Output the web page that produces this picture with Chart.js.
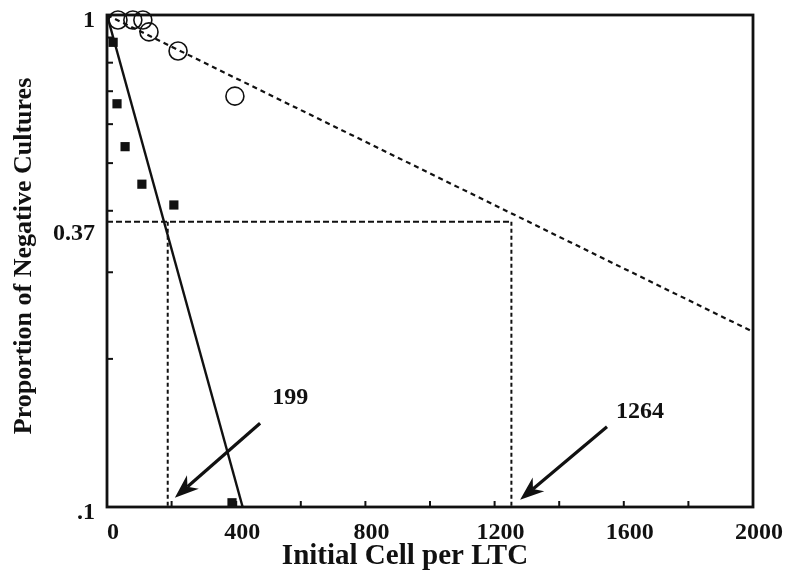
<!DOCTYPE html>
<html>
<head>
<meta charset="utf-8">
<script src="https://cdn.jsdelivr.net/npm/chart.js@4.4.1/dist/chart.umd.min.js"></script>
<style>
  html, body { margin: 0; padding: 0; background: #fff; }
  #wrap { width: 785px; height: 579px; }
</style>
</head>
<body>
<div id="wrap"><canvas id="chart"></canvas></div>
<script>
// data
const squareX = [19, 31, 56, 108, 207, 387];
const squareY = [0.88, 0.66, 0.54, 0.453, 0.411, 0.102];
const circleX = [34, 80, 111, 130, 220, 396];
const circleY = [0.977, 0.977, 0.977, 0.924, 0.845, 0.684];
const solidFitX = [0, 420];
const solidFitY = [1, 0.1];
const dashFitX = [0, 2000];
const dashFitY = [1, 0.227];
const refLevel = 0.38;
const refX = [188, 1252];

const xTicks = [0, 200, 400, 600, 800, 1000, 1200, 1400, 1600, 1800, 2000];
const xLabelTicks = [0, 400, 800, 1200, 1600, 2000];
const yTicks = [0.1, 0.2, 0.3, 0.4, 0.5, 0.6, 0.7, 0.8, 0.9, 1];
const yLabelValues = [0.1, 0.37, 1];
const yLabelText = ['.1', '0.37', '1'];
const xTitle = 'Initial Cell per LTC';
const yTitle = 'Proportion of Negative Cultures';

const arrowText = ['199', '1264'];
const arrowTextX = [567, 1650];
const arrowTextY = [0.1665, 0.156];
const arrowTailX = [474, 1548];
const arrowTailY = [0.148, 0.1456];
const arrowTipX = [210, 1279];
const arrowTipY = [0.1044, 0.1034];

const ink = '#111';
const serif = '"Liberation Serif", "Times New Roman", serif';

function pts(xs, ys) {
    return xs.map((x, i) => ({ x: x, y: ys[i] }));
}

function sameValue(a, b) {
    return Math.abs(a - b) < 1e-9;
}

const refLines = [
    { label: 'ref-h', data: pts([0, refX[1]], [refLevel, refLevel]), dash: [6, 3] },
    { label: 'ref-v1', data: pts([refX[0], refX[0]], [refLevel, 0.1]), dash: [4, 3] },
    { label: 'ref-v2', data: pts([refX[1], refX[1]], [refLevel, 0.1]), dash: [4, 3] }
].map(d => ({
    type: 'line',
    label: d.label,
    data: d.data,
    borderColor: ink,
    borderWidth: 2,
    borderDash: d.dash,
    pointRadius: 0,
    fill: false
}));

// frame, inward ticks, arrows and axis titles
const decorations = {
    id: 'decorations',
    afterDatasetsDraw(chart) {
        const ctx = chart.ctx;
        const area = chart.chartArea;
        const xs = chart.scales.x;
        const ys = chart.scales.y;
        ctx.save();
        ctx.strokeStyle = ink;
        ctx.lineWidth = 2;
        xTicks.forEach(v => {
            const px = xs.getPixelForValue(v);
            ctx.beginPath();
            ctx.moveTo(px, area.bottom);
            ctx.lineTo(px, area.bottom - 6);
            ctx.stroke();
        });
        yTicks.forEach(v => {
            const py = ys.getPixelForValue(v);
            ctx.beginPath();
            ctx.moveTo(area.left, py);
            ctx.lineTo(area.left + 6, py);
            ctx.stroke();
        });
        ctx.lineWidth = 2.8;
        ctx.strokeRect(area.left, area.top, area.right - area.left, area.bottom - area.top);

        // arrows
        ctx.fillStyle = ink;
        ctx.lineWidth = 3.2;
        arrowText.forEach((txt, i) => {
            const x0 = xs.getPixelForValue(arrowTailX[i]);
            const y0 = ys.getPixelForValue(arrowTailY[i]);
            const x1 = xs.getPixelForValue(arrowTipX[i]);
            const y1 = ys.getPixelForValue(arrowTipY[i]);
            const ang = Math.atan2(y1 - y0, x1 - x0);
            const len = 24, half = 9;
            const bx = x1 - Math.cos(ang) * len;
            const by = y1 - Math.sin(ang) * len;
            const nx = x1 - Math.cos(ang) * len * 0.7;
            const ny = y1 - Math.sin(ang) * len * 0.7;
            ctx.beginPath();
            ctx.moveTo(x0, y0);
            ctx.lineTo(nx, ny);
            ctx.stroke();
            ctx.beginPath();
            ctx.moveTo(x1, y1);
            ctx.lineTo(bx + Math.sin(ang) * half, by - Math.cos(ang) * half);
            ctx.lineTo(nx, ny);
            ctx.lineTo(bx - Math.sin(ang) * half, by + Math.cos(ang) * half);
            ctx.closePath();
            ctx.fill();

            ctx.font = 'bold 24px ' + serif;
            ctx.textAlign = 'center';
            ctx.textBaseline = 'middle';
            ctx.fillText(txt, xs.getPixelForValue(arrowTextX[i]), ys.getPixelForValue(arrowTextY[i]));
        });

        // axis titles
        ctx.textAlign = 'center';
        ctx.textBaseline = 'middle';
        ctx.font = 'bold 29px ' + serif;
        ctx.fillText(xTitle, (area.left + area.right) / 2 - 25, area.bottom + 50);
        ctx.save();
        ctx.translate(24, (area.top + area.bottom) / 2 - 5);
        ctx.rotate(-Math.PI / 2);
        ctx.font = 'bold 26px ' + serif;
        ctx.fillText(yTitle, 0, 0);
        ctx.restore();
        ctx.restore();
    }
};

new Chart(document.getElementById('chart'), {
    data: {
        datasets: [
            {
                type: 'line',
                label: 'fit-solid',
                data: pts(solidFitX, solidFitY),
                borderColor: ink,
                borderWidth: 2.4,
                pointRadius: 0,
                fill: false
            },
            {
                type: 'line',
                label: 'fit-dashed',
                data: pts(dashFitX, dashFitY),
                borderColor: ink,
                borderWidth: 2.2,
                borderDash: [5, 4],
                pointRadius: 0,
                fill: false
            },
            ...refLines,
            {
                type: 'scatter',
                label: 'squares',
                data: pts(squareX, squareY),
                pointStyle: 'rect',
                pointRadius: 6.5,
                backgroundColor: ink,
                borderColor: ink,
                borderWidth: 0,
                clip: false
            },
            {
                type: 'scatter',
                label: 'circles',
                data: pts(circleX, circleY),
                pointStyle: 'circle',
                pointRadius: 9,
                backgroundColor: 'rgba(0,0,0,0)',
                borderColor: ink,
                borderWidth: 1.6,
                clip: false
            }
        ]
    },
    options: {
        responsive: true,
        maintainAspectRatio: false,
        animation: false,
        events: [],
        layout: { padding: { left: 0, right: 32, top: 15, bottom: 0 } },
        plugins: {
            legend: { display: false },
            tooltip: { enabled: false }
        },
        scales: {
            x: {
                type: 'linear',
                min: 0,
                max: 2000,
                afterBuildTicks: (scale) => {
                    scale.ticks = xTicks.map(v => ({ value: v }));
                },
                afterFit: (scale) => {
                    scale.height = 72;
                    scale.paddingLeft = 0;
                    scale.paddingRight = 0;
                },
                grid: { display: false, drawTicks: false },
                border: { display: false },
                ticks: {
                    autoSkip: false,
                    maxRotation: 0,
                    padding: 11,
                    labelOffset: 6,
                    color: ink,
                    font: { family: serif, size: 24, weight: 'bold' },
                    callback: (v) => xLabelTicks.includes(v) ? String(v) : ''
                },
                title: { display: false }
            },
            y: {
                type: 'logarithmic',
                min: 0.1,
                max: 1,
                afterBuildTicks: (scale) => {
                    scale.ticks = yTicks.concat([0.37]).sort((a, b) => a - b).map(v => ({ value: v }));
                },
                afterFit: (scale) => {
                    scale.width = 107;
                    scale.paddingTop = 0;
                    scale.paddingBottom = 0;
                },
                grid: { display: false, drawTicks: false },
                border: { display: false },
                ticks: {
                    autoSkip: false,
                    padding: 12,
                    labelOffset: 6,
                    color: ink,
                    font: { family: serif, size: 24, weight: 'bold' },
                    callback: (v) => {
                        const i = yLabelValues.findIndex(t => sameValue(t, v));
                        return i >= 0 ? yLabelText[i] : '';
                    }
                },
                title: { display: false }
            }
        }
    },
    plugins: [decorations]
});
</script>
</body>
</html>
